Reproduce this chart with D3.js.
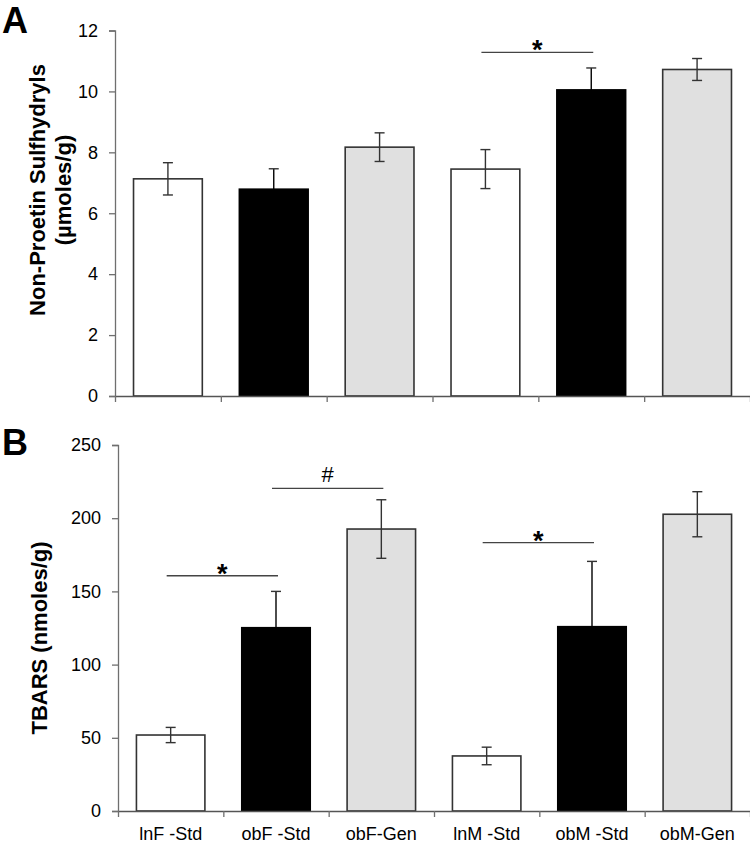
<!DOCTYPE html>
<html>
<head>
<meta charset="utf-8">
<script src="https://cdn.jsdelivr.net/npm/d3@7"></script>
<style>
  html, body { margin: 0; padding: 0; background: #fff; }
  svg { display: block; font-family: "Liberation Sans", Arial, sans-serif; }
</style>
</head>
<body>
<svg id="chart" width="750" height="844"></svg>
<script>
// ---- data ----
const categories = ["lnF -Std", "obF -Std", "obF-Gen", "lnM -Std", "obM -Std", "obM-Gen"];
const groupType = ["lean", "obese", "genistein", "lean", "obese", "genistein"];

const npsMean = [7.13, 6.79, 8.17, 7.45, 10.05, 10.72];
const npsErr  = [0.53, 0.67, 0.47, 0.64, 0.72, 0.36];
const npsTicks = [0, 2, 4, 6, 8, 10, 12];

const tbarsMean = [51.9, 125.2, 192.6, 37.6, 125.9, 202.7];
const tbarsErr  = [5.2, 24.8, 20.0, 6.0, 44.6, 15.4];
const tbarsTicks = [0, 50, 100, 150, 200, 250];

// significance brackets: [fromIndex, toIndex, yValue, symbol]
const npsSig = [[3, 4, 11.28, "*"]];
const tbarsSig = [[0, 1, 160.7, "*"], [1, 2, 220.4, "#"], [3, 4, 183.3, "*"]];

// ---- drawing ----
const svg = d3.select("#chart");
const color = d3.scaleOrdinal()
  .domain(["lean", "obese", "genistein"])
  .range(["#ffffff", "#000000", "#e0e0e0"]);

function panel(opts) {
  const g = svg.append("g");
  const x = d3.scaleBand().domain(categories)
    .range([opts.x0, opts.x1]).paddingInner(0.35).paddingOuter(0.175);
  const xTick = d3.scaleLinear().domain([0, categories.length]).range([opts.x0, opts.x1]);
  const y = d3.scaleLinear().domain([0, opts.yMax]).range([opts.yBottom, opts.yTop]);

  // bars
  g.selectAll("rect.bar").data(opts.mean).join("rect")
    .attr("class", "bar")
    .attr("x", (d, i) => x(categories[i]))
    .attr("width", x.bandwidth())
    .attr("y", d => y(d))
    .attr("height", d => y(0) - y(d))
    .attr("fill", (d, i) => color(groupType[i]))
    .attr("stroke", (d, i) => groupType[i] === "obese" ? "#000" : "#333")
    .attr("stroke-width", 1.6);

  // error bars
  const eb = g.selectAll("g.err").data(opts.mean).join("g").attr("class", "err")
    .attr("stroke", "#333").attr("stroke-width", 1.4);
  eb.append("line")
    .attr("x1", (d, i) => x(categories[i]) + x.bandwidth() / 2)
    .attr("x2", (d, i) => x(categories[i]) + x.bandwidth() / 2)
    .attr("y1", (d, i) => y(d + opts.err[i]))
    .attr("y2", (d, i) => y(d - opts.err[i]))
    .attr("stroke", (d, i) => groupType[i] === "obese" ? "#000" : "#333");
  eb.append("line")
    .attr("x1", (d, i) => x(categories[i]) + x.bandwidth() / 2 - 5)
    .attr("x2", (d, i) => x(categories[i]) + x.bandwidth() / 2 + 5)
    .attr("y1", (d, i) => y(d + opts.err[i]))
    .attr("y2", (d, i) => y(d + opts.err[i]));
  eb.append("line")
    .attr("x1", (d, i) => x(categories[i]) + x.bandwidth() / 2 - 5)
    .attr("x2", (d, i) => x(categories[i]) + x.bandwidth() / 2 + 5)
    .attr("y1", (d, i) => y(d - opts.err[i]))
    .attr("y2", (d, i) => y(d - opts.err[i]))
    .attr("stroke", (d, i) => groupType[i] === "obese" ? "#000" : "#333");

  // y axis
  const ya = g.append("g").attr("transform", `translate(${opts.x0},0)`)
    .call(d3.axisLeft(y).tickValues(opts.ticks).tickSize(6).tickPadding(11).tickFormat(d3.format("d")));
  ya.select(".domain").attr("stroke", "#6f6f6f").attr("stroke-width", 1.3);
  ya.selectAll(".tick line").attr("stroke", "#6f6f6f").attr("stroke-width", 1.3);
  ya.selectAll(".tick text").attr("font-size", 18).attr("fill", "#000")
    .attr("font-family", "Liberation Sans, Arial, sans-serif");

  // x axis (ticks at band boundaries)
  const xa = g.append("g").attr("transform", `translate(0,${opts.yBottom})`)
    .call(d3.axisBottom(xTick).tickValues(d3.range(categories.length + 1)).tickSize(6).tickSizeOuter(0).tickFormat(""));
  xa.select(".domain").attr("stroke", "#555").attr("stroke-width", 1.3);
  xa.selectAll(".tick line").attr("stroke", "#6f6f6f").attr("stroke-width", 1.3);

  if (opts.labels) {
    const la = g.append("g").attr("transform", `translate(0,${opts.yBottom})`)
      .call(d3.axisBottom(x).tickSize(0).tickPadding(16));
    la.select(".domain").remove();
    la.selectAll(".tick text").attr("font-size", 18).attr("fill", "#000")
      .attr("font-family", "Liberation Sans, Arial, sans-serif");
  }

  // significance
  opts.sig.forEach(s => {
    const xa1 = x(categories[s[0]]) + x.bandwidth() / 2 - 4;
    const xa2 = x(categories[s[1]]) + x.bandwidth() / 2 + 2;
    const yy = y(s[2]);
    g.append("line").attr("x1", xa1).attr("x2", xa2).attr("y1", yy).attr("y2", yy)
      .attr("stroke", "#444").attr("stroke-width", 1.3);
    g.append("text").attr("x", (xa1 + xa2) / 2).attr("y", s[3] === "*" ? yy + 7 : yy - 6)
      .attr("text-anchor", "middle")
      .attr("font-size", s[3] === "*" ? 27 : 22)
      .attr("font-weight", s[3] === "*" ? "bold" : "normal")
      .text(s[3]);
  });

  // y title
  const t = g.append("text")
    .attr("transform", `translate(${opts.titleX},${opts.titleY}) rotate(-90)`)
    .attr("text-anchor", "middle").attr("font-size", 22).attr("font-weight", "bold");
  opts.title.forEach((line, k) => {
    t.append("tspan").attr("x", 0).attr("dy", k === 0 ? 0 : 26).text(line);
  });

  // panel letter
  g.append("text").attr("x", 2).attr("y", opts.letterY)
    .attr("font-size", 36).attr("font-weight", "bold").text(opts.letter);
}

panel({
  x0: 115, x1: 750, yTop: 30.5, yBottom: 396, yMax: 12,
  mean: npsMean, err: npsErr, ticks: npsTicks, sig: npsSig, labels: false,
  title: ["Non-Proetin Sulfhydryls", "(µmoles/g)"], titleX: 45, titleY: 190,
  letter: "A", letterY: 33
});

panel({
  x0: 118, x1: 750, yTop: 445, yBottom: 811, yMax: 250,
  mean: tbarsMean, err: tbarsErr, ticks: tbarsTicks, sig: tbarsSig, labels: true,
  title: ["TBARS (nmoles/g)"], titleX: 47, titleY: 638,
  letter: "B", letterY: 455
});
</script>
</body>
</html>
